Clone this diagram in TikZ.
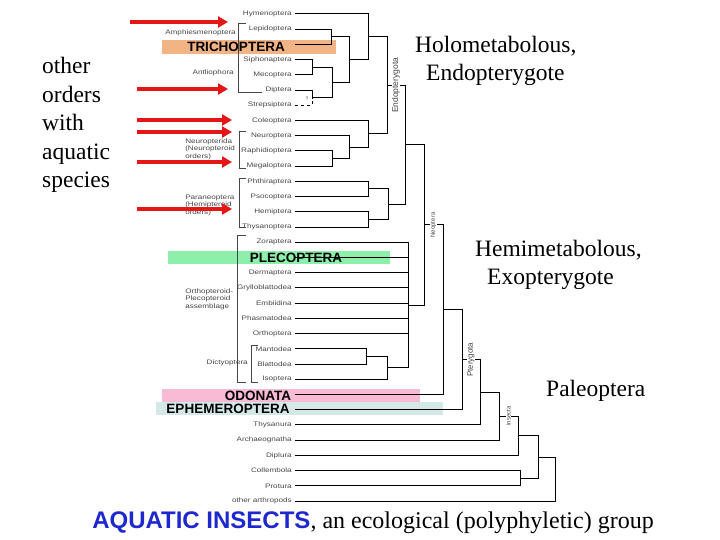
\documentclass[tikz,border=0pt]{standalone}
\usepackage{fontspec}
\setmainfont{Liberation Serif}
\setsansfont{Liberation Sans}
\usepackage{xcolor}
\usetikzlibrary{arrows.meta}
\definecolor{leafgray}{RGB}{70,70,70}
\definecolor{trichband}{RGB}{242,180,132}
\definecolor{pleband}{RGB}{140,240,170}
\definecolor{odoband}{RGB}{248,186,212}
\definecolor{ephband}{RGB}{212,232,232}
\definecolor{aquared}{RGB}{228,22,22}
\definecolor{aquablue}{RGB}{30,40,205}
\tikzset{
  leaf/.style={anchor=east, inner xsep=2.4pt, inner ysep=0pt, text=leafgray,
    font=\fontsize{6.5}{7.5}\selectfont\sffamily, xscale=1.25, transform shape},
  grp/.style={inner sep=0pt, align=left, text=leafgray,
    font=\fontsize{6.5}{7.5}\selectfont\sffamily, xscale=1.25, transform shape},
  clade/.style={line width=1pt},
  bracket/.style={draw=leafgray, line width=0.6pt},
  bandlabel/.style={inner sep=0pt, font=\fontsize{13.5}{14}\selectfont\sffamily\bfseries},
  rotlab/.style={rotate=90, fill=white, inner xsep=1pt, inner ysep=0.5pt, text=leafgray},
  redarrow/.style={-{Triangle[length=10pt,width=11pt]}, line width=4pt, draw=aquared},
  bigtext/.style={inner sep=0pt, font=\fontsize{23.5}{28.6}\selectfont}
}
\begin{document}
\begin{tikzpicture}[x=1pt, y=-1pt]
\useasboundingbox (0,0) rectangle (720,540);

% highlight bands for the aquatic orders
\fill[trichband] (162,40) rectangle (336,54);
\fill[pleband] (168,251) rectangle (390,264);
\fill[odoband] (162,389) rectangle (420,402);
\fill[ephband] (156,402) rectangle (443,415);

% terminal taxa, one row each
\foreach \nm/\lab [count=\i from 0] in {hym/Hymenoptera, lep/Lepidoptera, tri/{}, sip/Siphonaptera,
    mec/Mecoptera, dip/Diptera, str/Strepsiptera, col/Coleoptera, neu/Neuroptera, rap/Raphidioptera,
    meg/Megaloptera, phth/Phthiraptera, pso/Psocoptera, hem/Hemiptera, thy/Thysanoptera, zor/Zoraptera,
    ple/{}, der/Dermaptera, gry/Grylloblattodea, emb/Embiidina, pha/Phasmatodea, ort/Orthoptera,
    man/Mantodea, bla/Blattodea, iso/Isoptera, odo/{}, eph/{}, thn/Thysanura, arc/Archaeognatha,
    dpl/Diplura, cbl/Collembola, pro/Protura, oth/other arthropods}
  \node[leaf] (\nm) at (295,{14+15.22*\i}) {\lab};

% branching points
\coordinate (jA) at (331,36.8);
\coordinate (jB) at (312,67.3);
\coordinate (jC) at (312,97.7);
\coordinate (jD) at (332,82.5);
\coordinate (jE) at (349,59.7);
\coordinate (jF) at (368,36.8);
\coordinate (jRM) at (332,158.6);
\coordinate (jG) at (349,147.2);
\coordinate (jH) at (368,133.9);
\coordinate (jHolo) at (387,85.3);
\coordinate (jPP) at (368,189);
\coordinate (jHT) at (368,219.5);
\coordinate (jPara) at (388,204.3);
\coordinate (jEP) at (405,144.8);
\coordinate (jDB) at (366,356.5);
\coordinate (jDict) at (387,367.9);
\coordinate (jPoly) at (408,305.1);
\coordinate (jNeo) at (424,225);
\coordinate (jNO) at (443,309.8);
\coordinate (jPter) at (462,359.7);
\coordinate (jT1) at (480,392.3);
\coordinate (jDic) at (499,416.2);
\coordinate (jIns) at (518,435.8);
\coordinate (jCP) at (520,478.2);
\coordinate (jEnt) at (538,457);
\coordinate (jRoot) at (555,479);

% tree
\foreach \c/\p in {lep/jA, tri/jA, sip/jB, mec/jB, dip/jC, jB/jD, jC/jD, jA/jE, jD/jE, hym/jF, jE/jF,
    rap/jRM, meg/jRM, neu/jG, jRM/jG, col/jH, jG/jH, jF/jHolo, jH/jHolo, phth/jPP, pso/jPP,
    hem/jHT, thy/jHT, jPP/jPara, jHT/jPara, jHolo/jEP, jPara/jEP, man/jDB, bla/jDB, jDB/jDict,
    iso/jDict, zor/jPoly, ple/jPoly, der/jPoly, gry/jPoly, emb/jPoly, pha/jPoly, ort/jPoly,
    jDict/jPoly, jEP/jNeo, jPoly/jNeo, jNeo/jNO, odo/jNO, jNO/jPter, eph/jPter, jPter/jT1,
    thn/jT1, jT1/jDic, arc/jDic, jDic/jIns, dpl/jIns, cbl/jCP, pro/jCP, jIns/jEnt, jCP/jEnt,
    jEnt/jRoot, oth/jRoot}
  \draw[clade] (\c) -| (\p);
\draw[clade, dashed] (str) -| (jC);
\node[text=leafgray, inner sep=0pt, font=\fontsize{5}{5}\selectfont\sffamily] (qmark) at (307,99) {?};

% clade names on the branches
\node[rotlab, font=\fontsize{8.5}{8.5}\selectfont\sffamily] (endolab) at (396,85.3) {Endopterygota};
\node[rotlab, font=\fontsize{6}{6}\selectfont\sffamily] (neolab) at (433.5,225) {Neoptera};
\node[rotlab, font=\fontsize{8}{8}\selectfont\sffamily] (pterlab) at (471,359.7) {Pterygota};
\node[rotlab, font=\fontsize{6}{6}\selectfont\sffamily] (inslab) at (508.5,416.2) {Insecta};

% groups on the left
\draw[bracket] (246,23) -- (238,23) -- (238,92) -- (262,92);
\draw[bracket] (246,131) -- (239,131) -- (239,168) -- (246,168);
\draw[bracket] (246,178) -- (239,178) -- (239,227) -- (246,227);
\draw[bracket] (246,235) -- (237,235) -- (237,382) -- (246,382);
\draw[bracket] (258,345) -- (251,345) -- (251,382) -- (258,382);
\node[grp, anchor=east] (amphi) at (236,33) {Amphiesmenoptera};
\node[grp, anchor=east] (antlio) at (234,73) {Antliophora};
\node[grp, anchor=west] (neurida) at (185,149) {Neuropterida\\(Neuropteroid\\orders)};
\node[grp, anchor=west] (paran) at (185,205) {Paraneoptera\\(Hemipteroid\\orders)};
\node[grp, anchor=west] (orthass) at (185,299) {Orthopteroid-\\Plecopteroid\\assemblage};
\node[grp, anchor=east] (dicty) at (248,363) {Dictyoptera};

% aquatic orders
\node[bandlabel] (trichlab) at (236,47) {TRICHOPTERA};
\node[bandlabel] (plelab) at (296,258) {PLECOPTERA};
\node[bandlabel] (odolab) at (258,395.5) {ODONATA};
\node[bandlabel] (ephlab) at (228,409) {EPHEMEROPTERA};

% red arrows: other orders with aquatic species
\foreach \k/\ya/\xa/\xb in {1/22/130/228, 2/89/137/228, 3/120/137/232, 4/132/137/232, 5/162/137/232, 6/209/137/232}{
  \coordinate (tail\k) at (\xa,\ya);
  \coordinate (tip\k) at (\xb,\ya);
  \draw[redarrow] (tail\k) -- (tip\k);
}

\node[bigtext, anchor=west, align=left] (othertxt) at (42,125) {other\\orders\\with\\aquatic\\species};
\node[bigtext, anchor=west, align=left] (holotxt) at (415,61) {Holometabolous,\\\hspace*{11pt}Endopterygote};
\node[bigtext, anchor=west, align=left] (hemitxt) at (475,265) {Hemimetabolous,\\\hspace*{12pt}Exopterygote};
\node[bigtext, anchor=west] (paleotxt) at (546,391) {Paleoptera};
\node[bigtext, font=\fontsize{24}{28.6}\selectfont] (caption) at (373,523) {{\sffamily\bfseries\color{aquablue}AQUATIC INSECTS}, an ecological (polyphyletic) group};
\end{tikzpicture}
\end{document}
